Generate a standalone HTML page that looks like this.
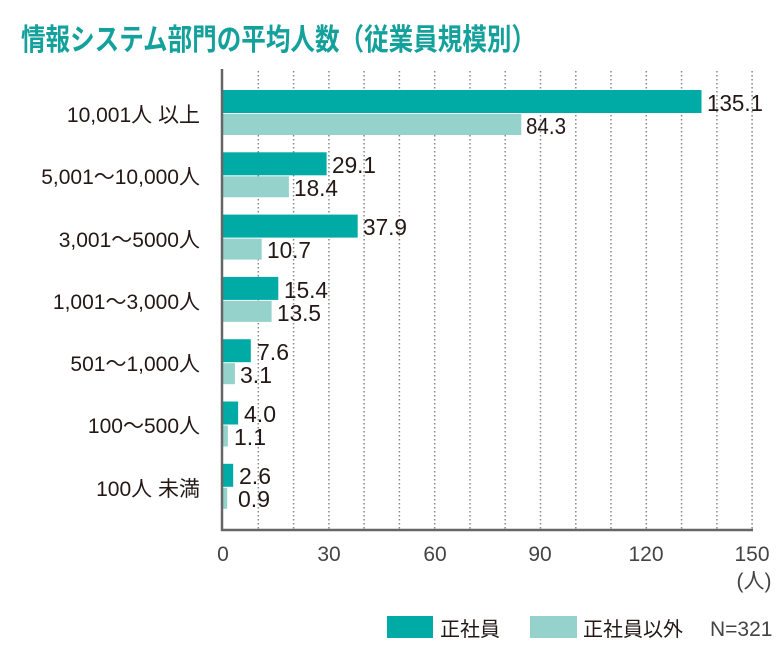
<!DOCTYPE html>
<html><head><meta charset="utf-8"><style>
html,body{margin:0;padding:0;background:#fff;}
svg{display:block;}
text{font-family:"Liberation Sans","Noto Sans CJK JP",sans-serif;fill:#231815;}
</style></head><body>
<svg width="780" height="660" viewBox="0 0 780 660" xmlns="http://www.w3.org/2000/svg">
<text x="21" y="50" font-size="30" font-weight="bold" style="fill:#14a19c" textLength="515" lengthAdjust="spacingAndGlyphs">情報システム部門の平均人数（従業員規模別）</text>
<g stroke="#888" stroke-width="1.5" stroke-dasharray="1.5,2.5">
<line x1="258.3" y1="71" x2="258.3" y2="530"/><line x1="293.6" y1="71" x2="293.6" y2="530"/>
<line x1="328.9" y1="71" x2="328.9" y2="530"/><line x1="364.1" y1="71" x2="364.1" y2="530"/>
<line x1="399.4" y1="71" x2="399.4" y2="530"/><line x1="434.7" y1="71" x2="434.7" y2="530"/>
<line x1="470" y1="71" x2="470" y2="530"/><line x1="505.2" y1="71" x2="505.2" y2="530"/>
<line x1="540.5" y1="71" x2="540.5" y2="530"/><line x1="575.8" y1="71" x2="575.8" y2="530"/>
<line x1="611" y1="71" x2="611" y2="530"/><line x1="646.3" y1="71" x2="646.3" y2="530"/>
<line x1="681.6" y1="71" x2="681.6" y2="530"/><line x1="716.9" y1="71" x2="716.9" y2="530"/>
<line x1="752.1" y1="71" x2="752.1" y2="530"/>
</g>
<g>
<rect x="223" y="90" width="478.5" height="23" fill="#00aba6"/><rect x="223" y="114" width="298.3" height="21" fill="#94d2cb"/>
<rect x="223" y="152.3" width="103.6" height="23" fill="#00aba6"/><rect x="223" y="176.3" width="65.9" height="21" fill="#94d2cb"/>
<rect x="223" y="214.6" width="134.7" height="23" fill="#00aba6"/><rect x="223" y="238.6" width="38.7" height="21" fill="#94d2cb"/>
<rect x="223" y="276.9" width="55.3" height="23" fill="#00aba6"/><rect x="223" y="300.9" width="48.6" height="21" fill="#94d2cb"/>
<rect x="223" y="339.2" width="27.8" height="23" fill="#00aba6"/><rect x="223" y="363.2" width="11.9" height="21" fill="#94d2cb"/>
<rect x="223" y="401.5" width="15.1" height="23" fill="#00aba6"/><rect x="223" y="425.5" width="4.9" height="21" fill="#94d2cb"/>
<rect x="223" y="463.8" width="10.2" height="23" fill="#00aba6"/><rect x="223" y="487.8" width="4.2" height="21" fill="#94d2cb"/>
</g>
<line x1="222" y1="69" x2="222" y2="531" stroke="#666" stroke-width="2.5"/>
<line x1="221" y1="530" x2="753" y2="530" stroke="#666" stroke-width="2.5"/>
<g font-size="23">
<text x="707" y="111" textLength="56" lengthAdjust="spacingAndGlyphs">135.1</text><text x="526" y="134" textLength="40" lengthAdjust="spacingAndGlyphs">84.3</text>
<text x="332" y="173" textLength="44" lengthAdjust="spacingAndGlyphs">29.1</text><text x="294" y="196" textLength="44" lengthAdjust="spacingAndGlyphs">18.4</text>
<text x="363" y="235" textLength="44" lengthAdjust="spacingAndGlyphs">37.9</text><text x="267" y="258" textLength="44" lengthAdjust="spacingAndGlyphs">10.7</text>
<text x="284" y="298" textLength="44" lengthAdjust="spacingAndGlyphs">15.4</text><text x="277" y="321" textLength="44" lengthAdjust="spacingAndGlyphs">13.5</text>
<text x="257" y="360" textLength="32" lengthAdjust="spacingAndGlyphs">7.6</text><text x="240" y="383" textLength="32" lengthAdjust="spacingAndGlyphs">3.1</text>
<text x="244" y="422" textLength="32" lengthAdjust="spacingAndGlyphs">4.0</text><text x="234" y="445" textLength="32" lengthAdjust="spacingAndGlyphs">1.1</text>
<text x="239" y="484" textLength="32" lengthAdjust="spacingAndGlyphs">2.6</text><text x="238" y="507" textLength="32" lengthAdjust="spacingAndGlyphs">0.9</text>
</g>
<g font-size="21" text-anchor="end">
<text x="200" y="122">10,001人 以上</text>
<text x="200" y="184">5,001～10,000人</text>
<text x="200" y="247">3,001～5000人</text>
<text x="200" y="309">1,001～3,000人</text>
<text x="200" y="371">501～1,000人</text>
<text x="200" y="433">100～500人</text>
<text x="200" y="496">100人 未満</text>
</g>
<g font-size="21" text-anchor="middle">
<text x="223" y="561" style="fill:#444">0</text><text x="329" y="561" style="fill:#444">30</text>
<text x="435" y="561" style="fill:#444">60</text><text x="540" y="561" style="fill:#444">90</text>
<text x="646" y="561" style="fill:#444">120</text><text x="752" y="561" style="fill:#444">150</text>
<text x="754" y="588" style="fill:#444">(人)</text>
</g>
<rect x="387" y="616" width="46" height="22" fill="#00aba6"/>
<text x="440" y="636" font-size="20">正社員</text>
<rect x="530" y="616" width="47" height="22" fill="#94d2cb"/>
<text x="583" y="636" font-size="20">正社員以外</text>
<text x="710" y="636" font-size="21" style="fill:#444">N=321</text>
</svg>
</body></html>
